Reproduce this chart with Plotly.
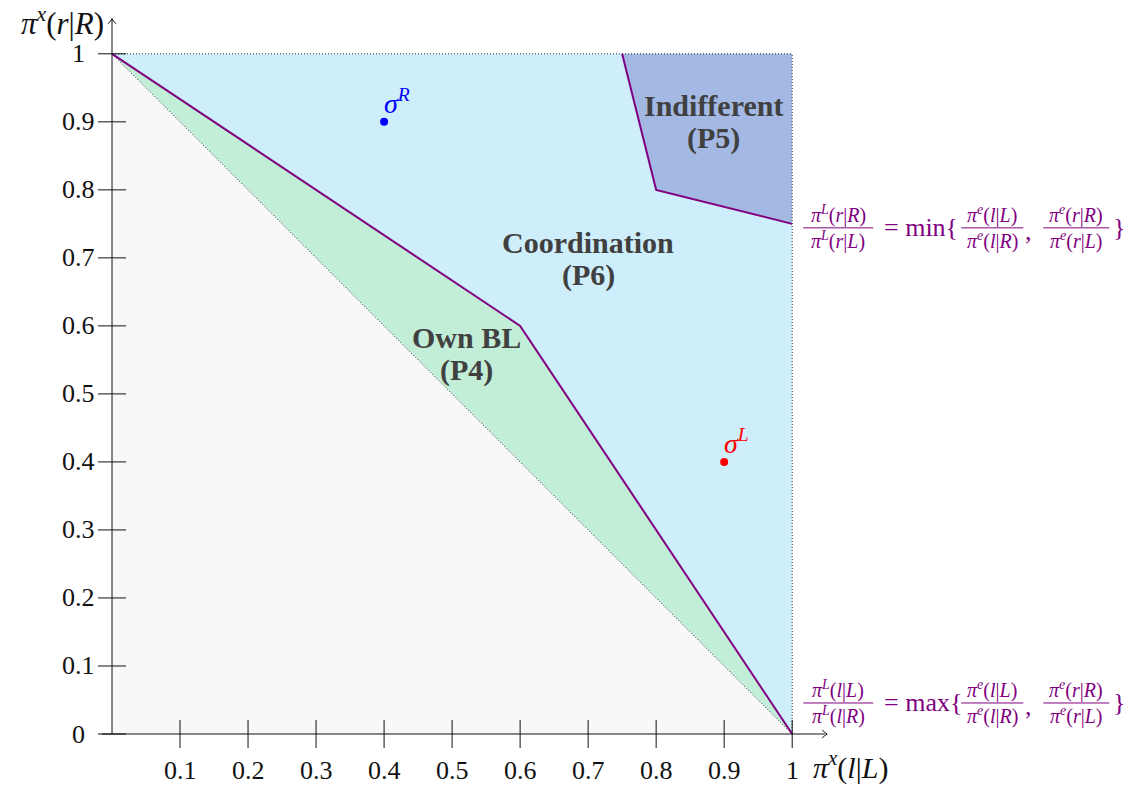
import plotly.graph_objects as go

W, H = 1133, 786

# ---------------- data ----------------
x_ticks = [0.1, 0.2, 0.3, 0.4, 0.5, 0.6, 0.7, 0.8, 0.9, 1.0]
x_tick_labels = ["0.1", "0.2", "0.3", "0.4", "0.5", "0.6", "0.7", "0.8", "0.9", "1"]
y_ticks = [0.0, 0.1, 0.2, 0.3, 0.4, 0.5, 0.6, 0.7, 0.8, 0.9, 1.0]
y_tick_labels = ["0", "0.1", "0.2", "0.3", "0.4", "0.5", "0.6", "0.7", "0.8", "0.9", "1"]

lower_x = [0, 0, 1]
lower_y = [0, 1, 0]
ownbl_x = [0, 0.6, 1]
ownbl_y = [1, 0.6, 0]
coord_x = [0, 0.6, 1, 1, 0.8, 0.75]
coord_y = [1, 0.6, 0, 0.75, 0.8, 1]
indiff_x = [0.75, 0.8, 1, 1]
indiff_y = [1, 0.8, 0.75, 1]

bound_lower_x = [0, 0.6, 1]
bound_lower_y = [1, 0.6, 0]
bound_upper_x = [0.75, 0.8, 1]
bound_upper_y = [1, 0.8, 0.75]

diag_x = [0, 1]
diag_y = [1, 0]
top_x = [0, 1]
top_y = [1, 1]
right_x = [1, 1]
right_y = [0, 1]

point_names = ["R", "L"]
point_x = [0.4, 0.9]
point_y = [0.9, 0.4]
point_colors = ["#0000ff", "#ff0000"]

region_lines = [["Coordination", "(P6)"], ["Own BL", "(P4)"], ["Indifferent", "(P5)"]]
region_x = [0.70, 0.521, 0.885]
region_y = [0.699, 0.559, 0.90]

# ---------------- layout geometry ----------------
XMIN, XMAX = -0.025, 1.06
YMIN, YMAX = -0.025, 1.06
ML, MB = 95, 35
PW = (XMAX - XMIN) * 680
PH = (YMAX - YMIN) * 680
MR = W - ML - PW
MT = H - MB - PH

def pxx(px):
    return (px - ML) / PW

def pxy(py):
    return (H - MB - py) / PH

FONT = "Liberation Serif"
PURPLE = "#800080"

fig = go.Figure()

def fill(x, y, color):
    fig.add_trace(go.Scatter(x=x, y=y, fill="toself", fillcolor=color, mode="lines",
                             line=dict(width=0), hoverinfo="skip", showlegend=False))

fill(lower_x, lower_y, "#f9f8f9")
fill(ownbl_x, ownbl_y, "#c2edd6")
fill(coord_x, coord_y, "#cdeefa")
fill(indiff_x, indiff_y, "#a3b9e4")

for xs, ys in [(diag_x, diag_y), (top_x, top_y), (right_x, right_y)]:
    fig.add_trace(go.Scatter(x=xs, y=ys, mode="lines", line=dict(color="#333333", width=1, dash="1px,2px"),
                             hoverinfo="skip", showlegend=False))

for xs, ys in [(bound_lower_x, bound_lower_y), (bound_upper_x, bound_upper_y)]:
    fig.add_trace(go.Scatter(x=xs, y=ys, mode="lines", line=dict(color=PURPLE, width=2),
                             hoverinfo="skip", showlegend=False))

# axis lines
fig.add_shape(type="line", x0=-0.015, x1=1.048, y0=0, y1=0, xref="x", yref="y",
              line=dict(color="#111111", width=1), layer="above")
fig.add_shape(type="line", x0=0, x1=0, y0=0, y1=1.052, xref="x", yref="y",
              line=dict(color="#111111", width=1), layer="above")
# arrow heads
ax_tip = (827, 734)
fig.add_shape(type="path", xref="paper", yref="paper", layer="above",
              path=f"M {pxx(ax_tip[0]-5)},{pxy(ax_tip[1]-4)} Q {pxx(ax_tip[0]-2)},{pxy(ax_tip[1]-1)} {pxx(ax_tip[0])},{pxy(ax_tip[1])} "
                   f"Q {pxx(ax_tip[0]-2)},{pxy(ax_tip[1]+1)} {pxx(ax_tip[0]-5)},{pxy(ax_tip[1]+4)}",
              line=dict(color="#111111", width=1))
ay_tip = (112, 19)
fig.add_shape(type="path", xref="paper", yref="paper", layer="above",
              path=f"M {pxx(ay_tip[0]-4)},{pxy(ay_tip[1]+5)} Q {pxx(ay_tip[0]-1)},{pxy(ay_tip[1]+2)} {pxx(ay_tip[0])},{pxy(ay_tip[1])} "
                   f"Q {pxx(ay_tip[0]+1)},{pxy(ay_tip[1]+2)} {pxx(ay_tip[0]+4)},{pxy(ay_tip[1]+5)}",
              line=dict(color="#111111", width=1))

# ticks
fig.add_trace(go.Scatter(x=x_ticks, y=[0] * len(x_ticks), mode="markers", cliponaxis=False,
                         marker=dict(symbol="line-ns", size=20, line=dict(color="#111111", width=1)),
                         hoverinfo="skip", showlegend=False))
fig.add_trace(go.Scatter(x=[0] * len(y_ticks), y=y_ticks, mode="markers", cliponaxis=False,
                         marker=dict(symbol="line-ew", size=20, line=dict(color="#111111", width=1)),
                         hoverinfo="skip", showlegend=False))

# points
fig.add_trace(go.Scatter(x=point_x, y=point_y, mode="markers", cliponaxis=False,
                         marker=dict(color=point_colors, size=8), hoverinfo="skip", showlegend=False))

ann = []
TF = 26
for v, t in zip(x_ticks, x_tick_labels):
    ann.append(dict(x=v, y=0, xref="x", yref="y", text=t, showarrow=False, yshift=-36,
                    xanchor="center", yanchor="middle", font=dict(family=FONT, size=TF, color="#111111")))
for v, t in zip(y_ticks, y_tick_labels):
    ann.append(dict(x=0, y=v, xref="x", yref="y", text=t, showarrow=False, xshift=-34,
                    xanchor="center", yanchor="middle", font=dict(family=FONT, size=TF, color="#111111")))

for lines, rx, ry in zip(region_lines, region_x, region_y):
    for k, line in enumerate(lines):
        ann.append(dict(x=rx, y=ry, xref="x", yref="y", text=f"<b>{line}</b>", showarrow=False,
                        yshift=16.5 - 33 * k, xanchor="center", yanchor="middle",
                        font=dict(family=FONT, size=30, color="#404040")))

for name, px_, py_, c in zip(point_names, point_x, point_y, point_colors):
    ann.append(dict(x=px_, y=py_, xref="x", yref="y", text=f"<i>σ</i><sup><i>{name}</i></sup>",
                    showarrow=False, xanchor="left", yanchor="bottom", xshift=-2, yshift=1,
                    font=dict(family=FONT, size=28, color=c)))

# axis labels
ann.append(dict(x=pxx(106), y=pxy(22), xref="paper", yref="paper",
                text="<i>π</i><sup><i>x</i></sup>(<i>r</i>|<i>R</i>)", showarrow=False,
                xanchor="right", yanchor="middle", font=dict(family=FONT, size=31, color="#111111")))
ann.append(dict(x=pxx(811), y=pxy(765), xref="paper", yref="paper",
                text="<i>π</i><sup><i>x</i></sup>(<i>l</i>|<i>L</i>)", showarrow=False,
                xanchor="left", yanchor="middle", font=dict(family=FONT, size=30, color="#111111")))

# boundary labels (stacked fractions)
def pi(sup, a, b):
    return f"<i>π</i><sup><i>{sup}</i></sup>(<i>{a}</i>|<i>{b}</i>)"

label_upper = [(pi("L", "r", "R"), pi("L", "r", "L")), "= min{",
               (pi("e", "l", "L"), pi("e", "l", "R")), ",",
               (pi("e", "r", "R"), pi("e", "r", "L")), "}"]
label_lower = [(pi("L", "l", "L"), pi("L", "l", "R")), "= max{",
               (pi("e", "l", "L"), pi("e", "l", "R")), ",",
               (pi("e", "r", "R"), pi("e", "r", "L")), "}"]

frac_centers = [838, 992, 1076]
frac_half = [35, 31, 33]
op_left = [882, 1023, 1111]

def add_label(parts, bar_y):
    fi = 0
    oi = 0
    for p in parts:
        if isinstance(p, tuple):
            cx = frac_centers[fi]
            hw = frac_half[fi]
            ann.append(dict(x=pxx(cx), y=pxy(bar_y - 13), xref="paper", yref="paper", text=p[0],
                            showarrow=False, xanchor="center", yanchor="middle",
                            font=dict(family=FONT, size=20, color=PURPLE)))
            ann.append(dict(x=pxx(cx), y=pxy(bar_y + 13), xref="paper", yref="paper", text=p[1],
                            showarrow=False, xanchor="center", yanchor="middle",
                            font=dict(family=FONT, size=20, color=PURPLE)))
            fig.add_shape(type="line", xref="paper", yref="paper", x0=pxx(cx - hw), x1=pxx(cx + hw),
                          y0=pxy(bar_y), y1=pxy(bar_y), line=dict(color=PURPLE, width=1))
            fi += 1
        else:
            dy = 4 if p == "," else 0
            ann.append(dict(x=pxx(op_left[oi]), y=pxy(bar_y + dy), xref="paper", yref="paper", text=p,
                            showarrow=False, xanchor="left", yanchor="middle",
                            font=dict(family=FONT, size=26, color=PURPLE)))
            oi += 1

add_label(label_upper, 228)
add_label(label_lower, 703)

fig.update_layout(
    width=W, height=H,
    margin=dict(l=ML, r=MR, t=MT, b=MB),
    paper_bgcolor="white", plot_bgcolor="white",
    xaxis=dict(range=[XMIN, XMAX], showgrid=False, zeroline=False, showticklabels=False,
               showline=False, ticks="", fixedrange=True),
    yaxis=dict(range=[YMIN, YMAX], showgrid=False, zeroline=False, showticklabels=False,
               showline=False, ticks="", fixedrange=True),
    annotations=ann,
    showlegend=False,
)

fig.write_html("out.html")
